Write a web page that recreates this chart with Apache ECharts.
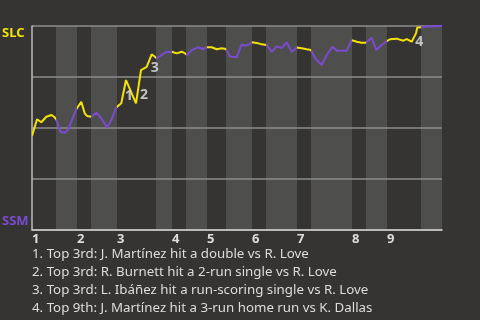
<!DOCTYPE html>
<html>
<head>
<meta charset="utf-8">
<style>
html,body{margin:0;padding:0;background:#353432;}
#chart{width:480px;height:320px;}
</style>
<script src="https://cdn.jsdelivr.net/npm/echarts@6/dist/echarts.min.js"></script>
</head>
<body>
<div id="chart"></div>
<script>
// Game progress (event index) and SLC win probability (%)
const progress = [0,1.0,1.86,2.86,3.86,4.4,4.86,5.66,6.54,7.2,7.86,8.86,9.86,10.54,11.0,11.86,12.86,13.86,15.0,15.86,16.86,17.86,18.8,19.94,20.8,21.8,22.94,23.94,24.4,24.94,25.94,26.94,27.94,28.94,29.94,30.6,31.06,31.94,33.26,34.26,34.94,35.94,36.94,37.94,38.8,39.6,40.94,41.94,42.6,43.46,43.94,45.26,45.94,46.94,47.94,48.94,49.94,50.94,51.94,52.94,53.94,54.94,55.8,56.6,57.94,58.94,60.14,60.94,62.94,63.94,64.94,65.94,66.8,67.94,68.86,69.94,70.8,71.6,72.94,74.26,74.94,75.94,76.8,77.06,77.9,78.6,82];
const slcWinPct = [46.1,54.3,52.8,55.5,56.4,55.5,54.3,48.2,47.7,49.0,53.1,59.2,62.9,57.2,55.9,55.5,57.5,54.8,50.3,53.9,60.1,62.1,73.5,67.0,62.1,78.4,80.0,86.1,85.3,84.2,85.8,87.3,87.4,86.6,87.4,86.6,85.8,88.2,89.6,88.6,89.6,89.6,88.6,89.1,88.7,85.0,84.7,91.0,90.3,91.0,92.0,91.5,91.0,90.7,87.3,90.0,89.2,92.0,87.3,89.5,89.1,88.6,88.2,84.3,80.9,85.8,89.9,87.9,87.9,93.1,92.3,91.8,91.8,94.2,88.2,90.7,92.3,93.5,93.8,92.8,93.6,92.3,96.4,99.3,99.4,99.7,100];

// Half-inning starts (in progress units)
const topStarts = [0,9,17,28,35,44,53,64,71];
const bottomStarts = [4.8,11.8,24.8,30.8,38.8,46.8,55.8,66.8,77.8];
const gameEnd = 82;
const inningLabels = ['1','2','3','4','5','6','7','8','9'];

// Key events
const eventIdx = [22,25,27,83];
const eventLabels = ['1','2','3','4'];
const eventNotes = [
  '1. Top 3rd: J. Martínez hit a double vs R. Love',
  '2. Top 3rd: R. Burnett hit a 2-run single vs R. Love',
  '3. Top 3rd: L. Ibáñez hit a run-scoring single vs R. Love',
  '4. Top 9th: J. Martínez hit a 3-run home run vs K. Dallas'
];
const teamTop = 'SLC', teamBottom = 'SSM';

const YEL = '#f3e206', PUR = '#7a4bd0';
const FONT = '"Noto Sans", "Open Sans", sans-serif';

const lineData = progress.map((x,i)=>[x, slcWinPct[i]]);
const pieces = [];
const areas = [];
for (let i=0;i<topStarts.length;i++){
  const nextTop = i+1<topStarts.length ? topStarts[i+1] : gameEnd;
  pieces.push({gte: topStarts[i], lt: bottomStarts[i], color: YEL});
  pieces.push({gte: bottomStarts[i], lte: nextTop, color: PUR});
  areas.push([{xAxis: bottomStarts[i]}, {xAxis: nextTop}]);
}
const labelOffsets = [[3,16],[3,25],[3,14],[2,15]];
const eventData = eventIdx.map((k,i)=>({
  value:[progress[k], slcWinPct[k]],
  label:{show:true, formatter:eventLabels[i], position:'inside', offset:labelOffsets[i]}
}));

const chart = echarts.init(document.getElementById('chart'), null, {renderer:'canvas'});
chart.setOption({
  backgroundColor:'#353432',
  animation:false,
  title:{
    text: eventNotes.join('\n'),
    left: 32, top: 245, padding:0,
    textStyle:{color:'#dddddd', fontSize:13.3, fontWeight:'normal', fontFamily:FONT, lineHeight:18}
  },
  grid:{left:32, right:38, top:26, bottom:90, containLabel:false, outerBoundsMode:'none'},
  xAxis:{
    type:'value', min:0, max:gameEnd, z:2,
    axisLine:{show:true, lineStyle:{color:'#cfcfcf', width:1.5}},
    axisTick:{show:false},
    splitLine:{show:false},
    axisLabel:{
      customValues: topStarts,
      formatter: v => inningLabels[topStarts.indexOf(v)] || '',
      align:'left', margin:3,
      color:'#dddddd', fontSize:13, fontWeight:'bold', fontFamily:FONT
    }
  },
  yAxis:{
    type:'value', min:0, max:100, interval:25, z:2,
    axisLine:{show:true, lineStyle:{color:'#bdbdbd', width:1.5}},
    axisTick:{show:false},
    splitLine:{show:true, lineStyle:{color:'#8c8c8c', width:1.5}},
    axisLabel:{
      margin:30, align:'left',
      formatter: v => v===100 ? '{a|'+teamTop+'}' : (v===0 ? '{b|'+teamBottom+'}' : ''),
      rich:{
        a:{color:YEL, fontSize:13, fontWeight:'bold', fontFamily:FONT, padding:[14,0,0,0]},
        b:{color:PUR, fontSize:13, fontWeight:'bold', fontFamily:FONT, padding:[0,0,18,0]}
      }
    }
  },
  visualMap:{show:false, type:'piecewise', seriesIndex:0, dimension:0, pieces:pieces},
  series:[
    {
      type:'line', data:lineData, showSymbol:false, z:3,
      lineStyle:{width:2}
    },
    {
      type:'line', data:[[0,0]], showSymbol:false, z:1, silent:true,
      lineStyle:{width:0, opacity:0},
      markArea:{silent:true, itemStyle:{color:'#4e4e4d'}, data:areas}
    },
    {
      type:'scatter', data:eventData, symbolSize:0, z:4, silent:true,
      label:{color:'#e6e6e6', fontSize:14, fontWeight:'bold', fontFamily:FONT}
    }
  ]
});
</script>
</body>
</html>
